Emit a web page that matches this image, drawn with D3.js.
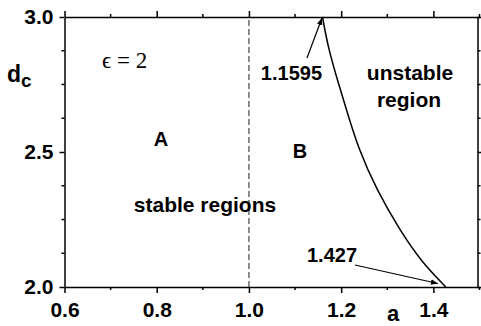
<!DOCTYPE html>
<html>
<head>
<meta charset="utf-8">
<script src="https://cdn.jsdelivr.net/npm/d3@7"></script>
<style>
body { margin: 0; background: #fff; }
text { font-family: "Liberation Sans", Arial, sans-serif; font-weight: bold; fill: #000; }
.axis path, .axis line { stroke: #000; stroke-width: 1.5; }
</style>
</head>
<body>
<svg id="canvas" width="481" height="326"></svg>
<script>
var width = 481;
var height = 326;

// boundary curve
var curveA = [1.1595, 1.172, 1.193, 1.215, 1.237, 1.277, 1.327, 1.374, 1.427];
var curveD = [3.0, 2.884, 2.760, 2.637, 2.515, 2.359, 2.211, 2.093, 2.0];

var xMajor = [0.6, 0.8, 1.0, 1.2, 1.4];
var xMinor = [0.7, 0.9, 1.1, 1.3, 1.5];
var yMajor = [2.0, 2.5, 3.0];
var yMinor = [2.125, 2.25, 2.375, 2.625, 2.75, 2.875];
var dashA = 1.0;

var xScale = d3.scaleLinear()
.domain([0.6, 1.5])
.range([64.5, 479.5]);

var yScale = d3.scaleLinear()
.domain([2, 3])
.range([287, 17]);

var svg = d3.select("#canvas");

svg.append("defs").append("marker")
.attr("id", "arrow")
.attr("viewBox", "0 0 10 10")
.attr("refX", 10)
.attr("refY", 5)
.attr("markerWidth", 7)
.attr("markerHeight", 7)
.attr("markerUnits", "userSpaceOnUse")
.attr("orient", "auto")
.append("path")
.attr("d", "M0,1L10,5L0,9z")
.attr("fill", "#000");

// dashed divider between A and B
svg.append("line")
.attr("x1", xScale(dashA)).attr("x2", xScale(dashA))
.attr("y1", yScale(2)).attr("y2", yScale(3))
.attr("stroke", "#555")
.attr("stroke-width", 1.3)
.attr("stroke-dasharray", "6,3");

var line = d3.line()
.x(function(d, i) { return xScale(curveA[i]); })
.y(function(d, i) { return yScale(curveD[i]); })
.curve(d3.curveBasis);

svg.append("path")
.datum(curveD)
.attr("d", line)
.attr("fill", "none")
.attr("stroke", "#000")
.attr("stroke-width", 1.5);

// axes: labels on bottom/left, ticks all round, pointing out
var xBottom = svg.append("g").attr("class", "axis")
.attr("transform", "translate(0," + yScale(2) + ")")
.call(d3.axisBottom(xScale).tickValues(xMajor).tickSize(6).tickSizeOuter(0).tickPadding(9).tickFormat(d3.format(".1f")));

var xTop = svg.append("g").attr("class", "axis")
.attr("transform", "translate(0," + yScale(3) + ")")
.call(d3.axisTop(xScale).tickValues(xMajor).tickSize(6).tickSizeOuter(0).tickFormat(""));

var yLeft = svg.append("g").attr("class", "axis")
.attr("transform", "translate(" + xScale(0.6) + ",0)")
.call(d3.axisLeft(yScale).tickValues(yMajor).tickSize(5).tickSizeOuter(0).tickPadding(6).tickFormat(d3.format(".1f")));

var yRight = svg.append("g").attr("class", "axis")
.attr("transform", "translate(" + (xScale(1.5) - 2) + ",0)")
.call(d3.axisRight(yScale).tickValues(yMajor).tickSize(5).tickSizeOuter(0).tickFormat(""));

svg.selectAll(".axis text").style("font-size", "21px");

// minor ticks
xBottom.selectAll(".mt").data(xMinor).enter().append("line")
.attr("x1", xScale).attr("x2", xScale).attr("y1", 0).attr("y2", 3);
xTop.selectAll(".mt").data(xMinor).enter().append("line")
.attr("x1", xScale).attr("x2", xScale).attr("y1", 0).attr("y2", -3);
yLeft.selectAll(".mt").data(yMinor).enter().append("line")
.attr("y1", yScale).attr("y2", yScale).attr("x1", 0).attr("x2", -3);
yRight.selectAll(".mt").data(yMinor).enter().append("line")
.attr("y1", yScale).attr("y2", yScale).attr("x1", 0).attr("x2", 3);

// axis titles
var dLabel = svg.append("text").attr("x", 7).attr("y", 82).style("font-size", "23px");
dLabel.append("tspan").text("d");
dLabel.append("tspan").attr("dy", 5).style("font-size", "19px").text("c");

svg.append("text").attr("x", 393).attr("y", 321).attr("text-anchor", "middle")
.style("font-size", "22px").text("a");

// annotations
svg.append("text").attr("x", 102).attr("y", 68)
.style("font-family", "'Liberation Serif', 'Times New Roman', serif")
.style("font-weight", "normal").style("font-size", "23px").text("ϵ = 2");

svg.append("text").attr("x", 161).attr("y", 146).attr("text-anchor", "middle").style("font-size", "20px").text("A");
svg.append("text").attr("x", 300).attr("y", 158).attr("text-anchor", "middle").style("font-size", "20px").text("B");
svg.append("text").attr("x", 205).attr("y", 212).attr("text-anchor", "middle").style("font-size", "21px").text("stable regions");
svg.append("text").attr("x", 410).attr("y", 80).attr("text-anchor", "middle").style("font-size", "21px").text("unstable");
svg.append("text").attr("x", 409).attr("y", 107).attr("text-anchor", "middle").style("font-size", "21px").text("region");

svg.append("text").attr("x", 322).attr("y", 80).attr("text-anchor", "end").style("font-size", "20px")
.text(d3.format(".4f")(curveA[0]));
svg.append("text").attr("x", 307).attr("y", 262).style("font-size", "20px")
.text(d3.format(".3f")(curveA[curveA.length - 1]));

svg.append("line")
.attr("x1", 307).attr("y1", 58)
.attr("x2", xScale(curveA[0]) - 0.5).attr("y2", yScale(curveD[0]) + 1)
.attr("stroke", "#000").attr("stroke-width", 1.2)
.attr("marker-end", "url(#arrow)");

svg.append("line")
.attr("x1", 355).attr("y1", 265)
.attr("x2", xScale(curveA[curveA.length - 1]) - 8).attr("y2", yScale(curveD[curveD.length - 1]) - 3.5)
.attr("stroke", "#000").attr("stroke-width", 1.2)
.attr("marker-end", "url(#arrow)");
</script>
</body>
</html>
